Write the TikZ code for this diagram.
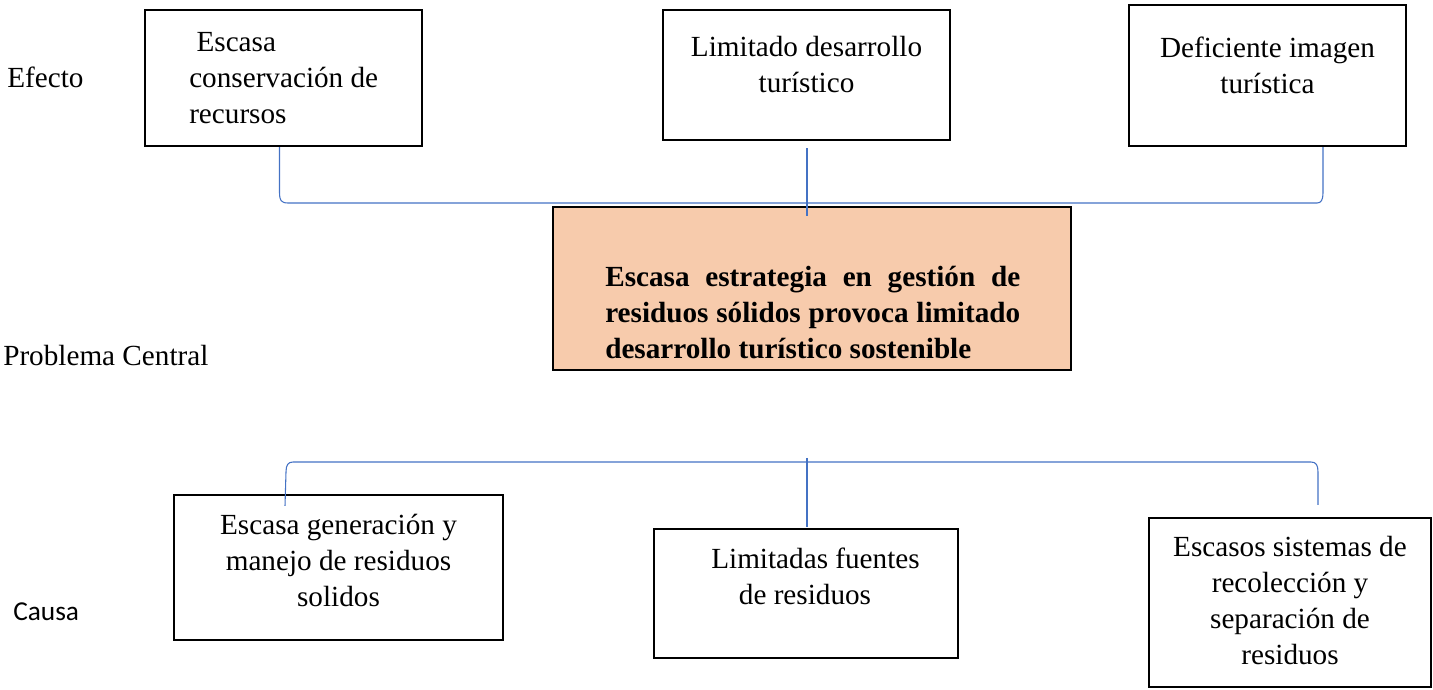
\documentclass[tikz,border=0pt]{standalone}
\usepackage{fontspec}
\setmainfont{Liberation Serif}[BoldFont={Liberation Serif Bold}]
\newfontfamily\calibrifont{Carlito}
\usetikzlibrary{fit,calc}
\definecolor{linkblue}{HTML}{4472C4}
\definecolor{peach}{HTML}{F7CBAC}
\begin{document}
\begin{tikzpicture}[x=0.75pt,y=-0.75pt,
  box/.style={draw=black,line width=1.6pt,inner sep=0pt},
  txt/.style={inner sep=0pt,font=\fontsize{21.9}{27}\selectfont},
  conn/.style={draw=linkblue,line width=0.8pt},
  ]
\useasboundingbox (0,0) rectangle (1433,689);

% boxes
\node[box,fit={(145,10)(422,146)}] (e1) {};
\node[box,fit={(663,10)(950,140)}] (e2) {};
\node[box,fit={(1129,5)(1406,146)}] (e3) {};
\node[box,fill=peach,fit={(553,207)(1071,370)}] (pc) {};
\node[box,fit={(174,495)(503,640)}] (c1) {};
\node[box,fit={(654,529)(958,658)}] (c2) {};
\node[box,fit={(1149,518)(1431,687)}] (c3) {};

% box texts
\node[txt,anchor=north west,align=left] (e1t) at (189,25.8) {\strut\hspace*{0.25em}Escasa\\conservación de\\recursos};
\node[txt,anchor=north,align=center] (e2t) at (806.5,30.8) {\strut Limitado desarrollo\\turístico};
\node[txt,anchor=north,align=center] (e3t) at (1267.5,31.8) {\strut Deficiente imagen\\turística};
\node[txt,anchor=north west,text width=311.25pt,align=justify,font=\fontsize{21.9}{27}\selectfont\bfseries] (pct) at (605,260.8)
  {\strut Escasa estrategia en gestión de\linebreak residuos sólidos provoca limitado\linebreak desarrollo turístico sostenible};
\node[txt,anchor=north,align=center] (c1t) at (338.5,508.8) {\strut Escasa generación y\\manejo de residuos\\solidos};
\node[txt,anchor=north,align=center] (c2t) at (815.5,542.8) {\strut Limitadas fuentes\\de residuos\hspace*{15.75pt}};
\node[txt,anchor=north,align=center] (c3t) at (1290,530.8) {\strut Escasos sistemas de\\recolección y\\separación de\\residuos};

% row labels
\node[txt,anchor=base west] (lef) at (7,87) {Efecto};
\node[txt,anchor=base west] (lpc) at (3,365) {Problema Central};
\node[txt,anchor=base west,font=\calibrifont\fontsize{20.5}{24}\selectfont] (lca) at (13,620) {Causa};

% connectors (top)
\draw[conn] ($(e1.south)+(-4,0)$) -- (279.5,193) .. controls (279.5,200) and (281,203) .. (288,203)
  -- (1317,203) .. controls (1321,203) and (1323,200) .. (1323,193) -- ($(e3.south)+(55.5,0)$);
\draw[conn] ($(e2.south)+(0.5,7)$) -- ($(pc.north)+(-5,10)$);

% connectors (bottom)
\draw[conn] ($(c1.north)+(-53.5,12)$) -- (286,472) .. controls (286,465) and (288,462) .. (293,462)
  -- (1311,462) .. controls (1316,462) and (1318,465) .. (1318,472) -- ($(c3.north)+(28,-12)$);
\draw[conn] ($(c2.north)+(1,-70)$) -- ($(c2.north)+(1,-1)$);
\end{tikzpicture}
\end{document}
